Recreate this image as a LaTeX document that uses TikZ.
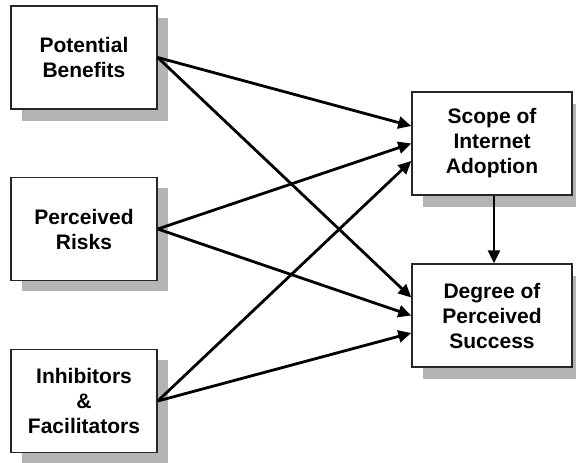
\documentclass[tikz,border=0pt]{standalone}
\usepackage{fontspec}
\setmainfont{Liberation Sans}
\usetikzlibrary{arrows.meta,calc}
\definecolor{shadowgrey}{HTML}{B4B4B4}
\tikzset{
  box/.style={draw=black!85, line width=1.5pt, fill=white, minimum width=146pt, minimum height=103pt,
    align=center, inner sep=0pt, font=\fontsize{21}{25}\selectfont\bfseries},
  wbox/.style={box, minimum width=160pt},
  arr/.style={line width=2.8pt, -{Triangle[length=13pt,width=12pt]}}
}
\begin{document}
\begin{tikzpicture}[x=1pt,y=-1pt]
\useasboundingbox (0,0) rectangle (576,463);
% shadows
\fill[shadowgrey] (22,18) rectangle (168,121);
\fill[shadowgrey] (22,188) rectangle (168,291);
\fill[shadowgrey] (22,360) rectangle (168,463);
\fill[shadowgrey] (423,104) rectangle (583,207);
\fill[shadowgrey] (423,276) rectangle (583,379);
% boxes
\node[box] (pb) at (84,57.5) {Potential\\Benefits};
\node[box] (pr) at (84,229) {Perceived\\Risks};
\node[box] (inf) at (84,401) {Inhibitors\\\&\\Facilitators};
\node[wbox] (sc) at (492,143.5) {Scope of\\Internet\\Adoption};
\node[wbox] (dg) at (492,315.5) {Degree of\\Perceived\\Success};
% arrows
\draw[arr] (pb.east) -- ($(sc.west)+(0,-17.5)$);
\draw[arr] (pb.east) -- ($(dg.west)+(0,-18)$);
\draw[arr] (pr.east) -- (sc.west);
\draw[arr] (pr.east) -- (dg.west);
\draw[arr] (inf.east) -- ($(sc.west)+(0,17.5)$);
\draw[arr] (inf.east) -- ($(dg.west)+(0,17.5)$);
\draw[arr] ($(sc.south)+(2,0)$) -- ($(dg.north)+(2,0)$);
\end{tikzpicture}
\end{document}
